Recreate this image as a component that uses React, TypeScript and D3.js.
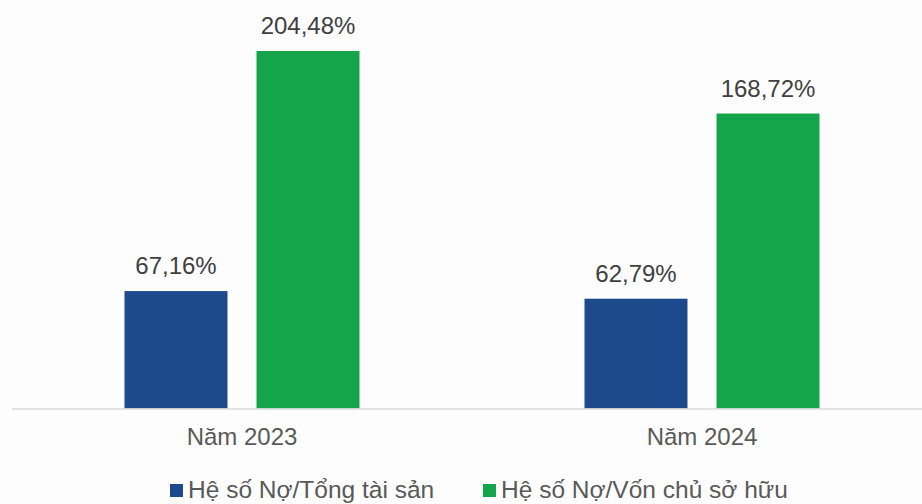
import React from "react";
import * as d3 from "d3";

const categories = ["Năm 2023", "Năm 2024"];
const seriesNames = ["Hệ số Nợ/Tổng tài sản", "Hệ số Nợ/Vốn chủ sở hữu"];
const debtToAssets = [67.16, 62.79];
const debtToEquity = [204.48, 168.72];
const colors = ["#1c4a8c", "#14a54b"];

const W = 922;
const H = 504;

export default function App() {
  const baseY = 408.5;
  const groupW = 235;
  const x0 = d3.scaleBand<string>().domain(categories).range([12, 932]).paddingInner(0).paddingOuter(0);
  const x1 = d3.scaleBand<string>().domain(["a", "b"]).range([0, groupW]).paddingInner(0.22);
  const y = d3.scaleLinear().domain([0, 204.48]).range([baseY, 51]);
  const series = [debtToAssets, debtToEquity];
  const fmt = (v: number) => v.toFixed(2).replace(".", ",") + "%";
  const legendX = [170, 483];
  return (
    <svg width={W} height={H} style={{ position: "absolute", left: 0, top: 0, background: "#fcfdfc" }}
      fontFamily="'Liberation Sans', Arial, sans-serif">
      <rect x={0} y={0} width={W} height={H} fill="#fcfdfc" />
      {categories.map((c, i) => {
        const gx = x0(c)! + (x0.bandwidth() - groupW) / 2;
        return (
          <g key={c}>
            {series.map((s, j) => {
              const bx = gx + x1(j === 0 ? "a" : "b")!;
              const by = y(s[i]);
              return (
                <g key={j}>
                  <rect x={bx} y={by} width={x1.bandwidth()} height={baseY - by} fill={colors[j]} />
                  <text x={bx + x1.bandwidth() / 2} y={by - 17} textAnchor="middle" fontSize={24} fill="#404040">
                    {fmt(s[i])}
                  </text>
                </g>
              );
            })}
            <text x={x0(c)! + x0.bandwidth() / 2} y={445} textAnchor="middle" fontSize={24} fill="#595959">
              {c}
            </text>
          </g>
        );
      })}
      <line x1={12} x2={W} y1={baseY + 0.5} y2={baseY + 0.5} stroke="#d9d9d9" strokeWidth={1.5} />
      {seriesNames.map((n, j) => (
        <g key={n}>
          <rect x={legendX[j]} y={484} width={13} height={13} fill={colors[j]} />
          <text x={legendX[j] + 18} y={498} fontSize={24.5} fill="#595959">{n}</text>
        </g>
      ))}
    </svg>
  );
}
